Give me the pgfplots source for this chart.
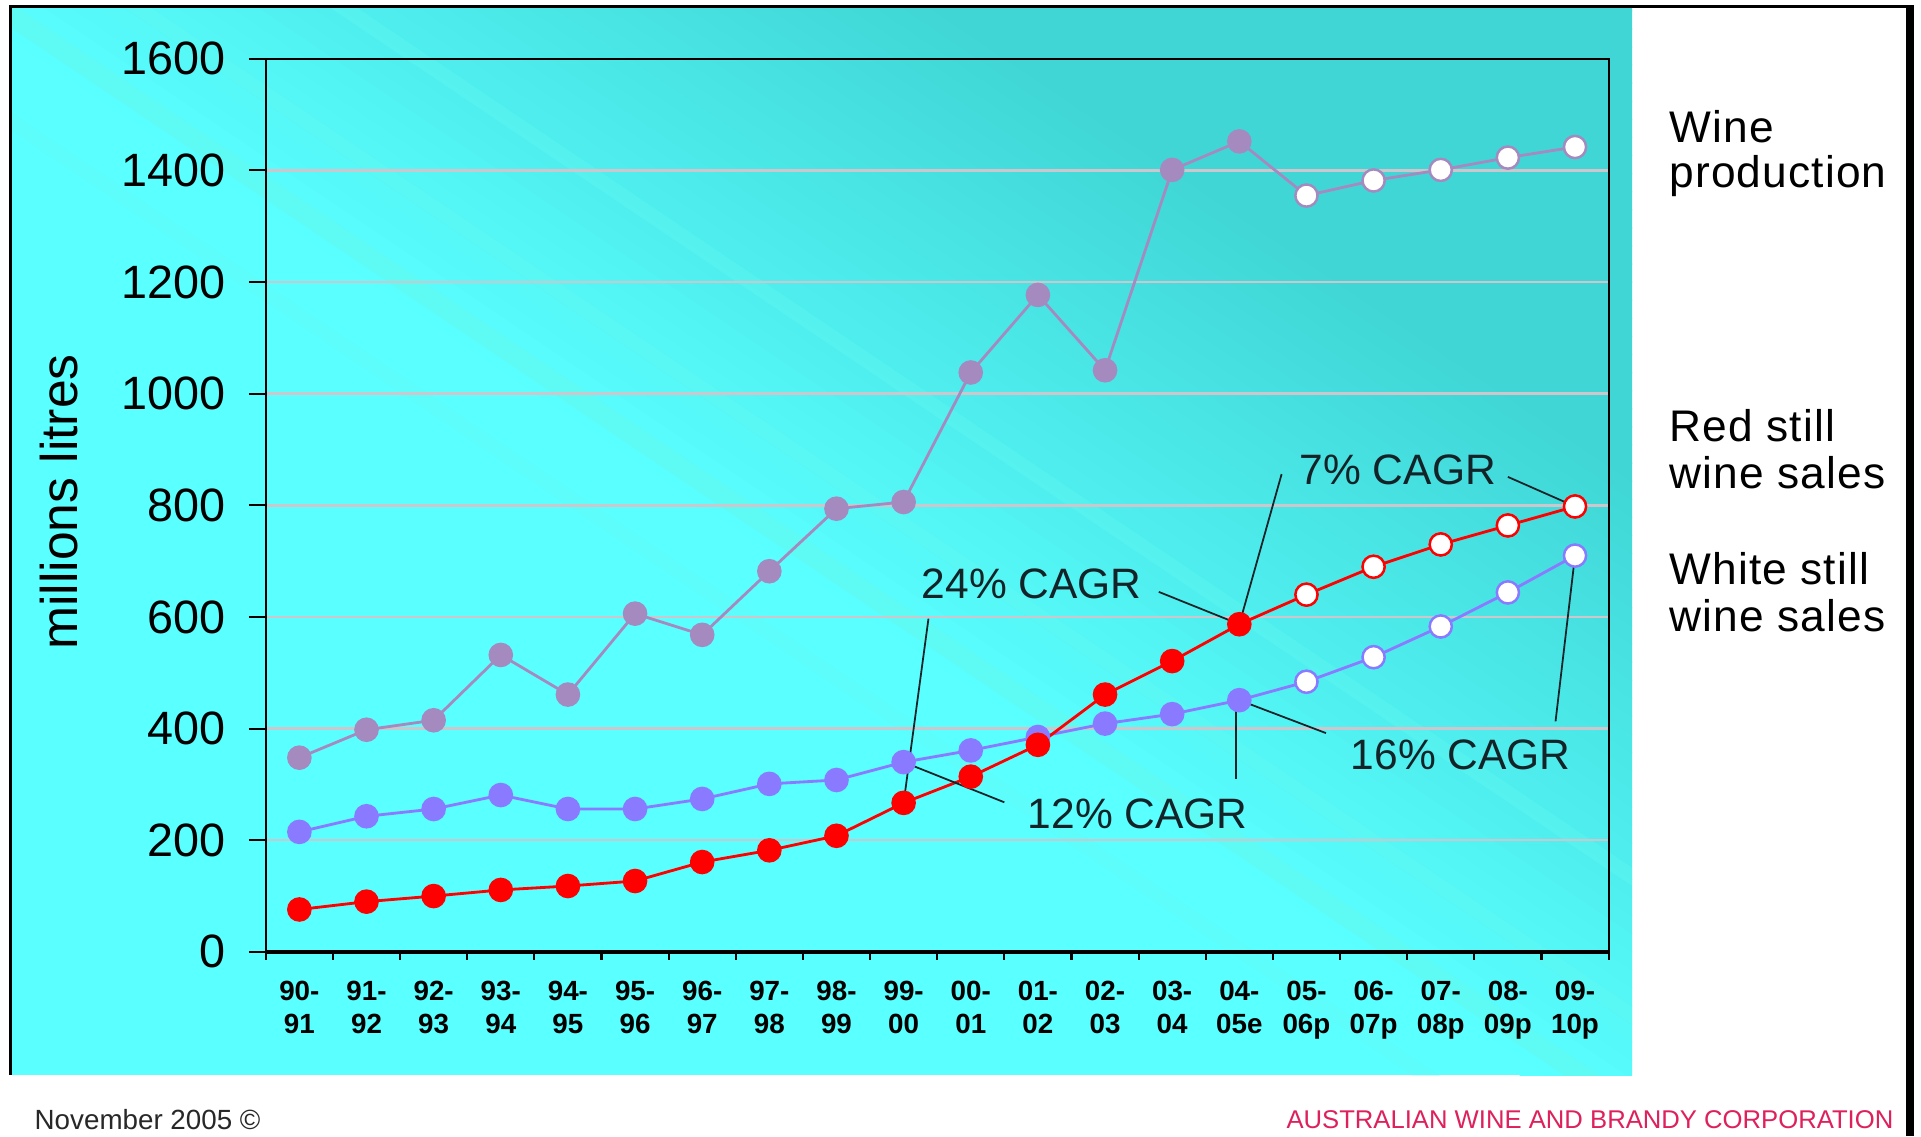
\documentclass[border=0pt]{standalone}
\usepackage{pgfplots}
\pgfplotsset{compat=1.18}
\usepackage{fontspec}
\setmainfont{Liberation Sans}
\definecolor{bgBright}{RGB}{90,255,255}
\definecolor{bgMid}{RGB}{82,242,242}
\definecolor{bgDark}{RGB}{64,214,214}
\definecolor{bgStripe}{RGB}{98,250,240}
\definecolor{wineC}{RGB}{165,138,192}
\definecolor{whiteC}{RGB}{138,122,255}
\definecolor{redC}{RGB}{255,0,0}
\definecolor{gridC}{RGB}{205,198,205}
\definecolor{awbc}{RGB}{222,32,92}
\definecolor{annot}{RGB}{20,35,40}
\begin{document}
\begin{tikzpicture}
\useasboundingbox (0,0) rectangle (192.1mm,113.6mm);
\fill[white] (0,0) rectangle (192.1mm,113.6mm);
% background panel
\begin{scope}[x=0.1mm,y=0.1mm]
  \clip (11,61) rectangle (1632,1130);
  \fill[bgBright] (11,61) rectangle (1632,1130);
  \begin{scope}[rotate=56]
    \foreach \s in {900,915,...,1870}{
      \pgfmathsetmacro\p{min(100,max(0,(\s-900)/5.5))}
      \fill[bgDark!\p!bgBright] (\s,-3000) -- (\s+16,-3000) -- (\s+16,3000) -- (\s,3000) -- cycle;
    }
    \fill[bgStripe, opacity=0.6] (925,-3000) -- (945,-3000) -- (945,3000) -- (925,3000) -- cycle;
    \fill[bgStripe, opacity=0.35] (1005,-3000) -- (1020,-3000) -- (1020,3000) -- (1005,3000) -- cycle;
    \fill[bgStripe, opacity=0.3] (1120,-3000) -- (1135,-3000) -- (1135,3000) -- (1120,3000) -- cycle;
    \fill[bgStripe, opacity=0.25] (840,-3000) -- (855,-3000) -- (855,3000) -- (840,3000) -- cycle;
  \end{scope}
\end{scope}
% frame
\begin{scope}[x=0.1mm,y=-0.1mm,yshift=113.6mm]
  \draw[black,line width=0.3mm] (9,6) -- (1912,6);
  \draw[black,line width=0.3mm] (10,6) -- (10,1075);
  \fill[black] (1906,5) rectangle (1914,1136);
\end{scope}
\begin{axis}[
  at={(26.58mm,18.41mm)}, anchor=south west,
  width=134.28mm, height=89.31mm, scale only axis,
  xmin=-0.5, xmax=19.5, ymin=0, ymax=1600,
  xtick={0,...,19},
  xticklabels={{90-\\91},{91-\\92},{92-\\93},{93-\\94},{94-\\95},{95-\\96},{96-\\97},{97-\\98},{98-\\99},{99-\\00},{00-\\01},{01-\\02},{02-\\03},{03-\\04},{04-\\05e},{05-\\06p},{06-\\07p},{07-\\08p},{08-\\09p},{09-\\10p}},
  minor xtick={-0.5,0.5,...,19.5},
  ytick={0,200,...,1600},
  tick align=outside, xtick pos=bottom, ytick pos=left,
  major tick length=1.7mm, minor tick length=0.8mm,
  major x tick style={draw=none},
  minor x tick style={black, line width=0.6pt},
  major y tick style={black, line width=0.6pt},
  ymajorgrids, major grid style={gridC, line width=0.7pt},
  axis line style={black, line width=0.6pt},
  /pgf/number format/assume math mode=true,
  /pgf/number format/1000 sep={},
  yticklabel style={font=\fontsize{13.3}{15}\selectfont, xshift=-1.1mm},
  xticklabel style={font=\fontsize{7.9}{9.4}\selectfont\bfseries, align=center},
  clip=false,
]
\draw[black, line width=1.2pt] (rel axis cs:0,0) -- (rel axis cs:1,0);
% Wine production
\addplot[wineC, line width=0.8pt, mark=*, mark size=3.1pt, mark options={fill=wineC, draw=wineC}] coordinates {
(0,348)(1,398)(2,415)(3,532)(4,461)(5,606)(6,568)(7,682)(8,794)(9,806)(10,1038)(11,1177)(12,1042)(13,1401)(14,1452)(15,1355)(16,1382)(17,1401)(18,1423)(19,1442)};
\addplot[only marks, mark=*, mark size=3.1pt, mark options={fill=white, draw=wineC, line width=0.6pt}] coordinates {
(15,1355)(16,1382)(17,1401)(18,1423)(19,1442)};
% White still wine sales
\addplot[whiteC, line width=0.8pt, mark=*, mark size=3.1pt, mark options={fill=whiteC, draw=whiteC}] coordinates {
(0,215)(1,243)(2,256)(3,281)(4,256)(5,256)(6,274)(7,301)(8,308)(9,340)(10,361)(11,385)(12,409)(13,426)(14,451)(15,484)(16,528)(17,583)(18,644)(19,710)};
\addplot[only marks, mark=*, mark size=3.1pt, mark options={fill=white, draw=whiteC, line width=0.6pt}] coordinates {
(15,484)(16,528)(17,583)(18,644)(19,710)};
% Red still wine sales
\addplot[redC, line width=0.8pt, mark=*, mark size=3.1pt, mark options={fill=redC, draw=redC}] coordinates {
(0,76)(1,90)(2,100)(3,111)(4,118)(5,127)(6,161)(7,182)(8,208)(9,267)(10,314)(11,371)(12,461)(13,521)(14,587)(15,640)(16,690)(17,730)(18,764)(19,798)};
\addplot[only marks, mark=*, mark size=3.1pt, mark options={fill=white, draw=redC, line width=0.6pt}] coordinates {
(15,640)(16,690)(17,730)(18,764)(19,798)};
% annotation lines
\draw[annot, line width=0.5pt] (axis cs:14.63,856) -- (axis cs:14,587);
\draw[annot, line width=0.5pt] (axis cs:18.0,851) -- (axis cs:19,798);
\draw[annot, line width=0.5pt] (axis cs:12.8,645) -- (axis cs:14,587);
\draw[annot, line width=0.5pt] (axis cs:9.37,597) -- (axis cs:9,267);
\draw[annot, line width=0.5pt] (axis cs:9,340) -- (axis cs:10.5,268);
\draw[annot, line width=0.5pt] (axis cs:13.95,451) -- (axis cs:13.95,310);
\draw[annot, line width=0.5pt] (axis cs:14,451) -- (axis cs:15.29,392);
\draw[annot, line width=0.5pt] (axis cs:19,710) -- (axis cs:18.71,413);
\end{axis}
\begin{scope}[x=0.1mm,y=-0.1mm,yshift=113.6mm]
  \node[rotate=90, anchor=base, inner sep=0pt, font=\fontsize{14.7}{16}\selectfont] at (77,502) {millions litres};
  \begin{scope}[every node/.style={anchor=base west, inner sep=0pt, text=annot, font=\fontsize{12.1}{14}\selectfont}]
    \node at (1299,484) {7\% CAGR};
    \node at (921,598) {24\% CAGR};
    \node at (1350,769) {16\% CAGR};
    \node at (1027,828) {12\% CAGR};
  \end{scope}
  \begin{scope}[every node/.style={anchor=base west, inner sep=0pt, font=\fontsize{12.6}{15}\selectfont\addfontfeatures{LetterSpace=2.5}}]
    \node at (1669,142) {Wine};
    \node at (1669,187) {production};
    \node at (1669,441) {Red still};
    \node at (1669,488) {wine sales};
    \node at (1669,584) {White still};
    \node at (1669,631) {wine sales};
  \end{scope}
  \node[anchor=base west, inner sep=0pt, text={rgb,255:red,40;green,40;blue,40}, font=\fontsize{7.9}{9}\selectfont] at (34,1129) {November 2005 \textcopyright};
  \node[anchor=base east, inner sep=0pt, text=awbc, font=\fontsize{7.3}{9}\selectfont] at (1894,1128) {AUSTRALIAN WINE AND BRANDY CORPORATION};
\end{scope}
\end{tikzpicture}
\end{document}
